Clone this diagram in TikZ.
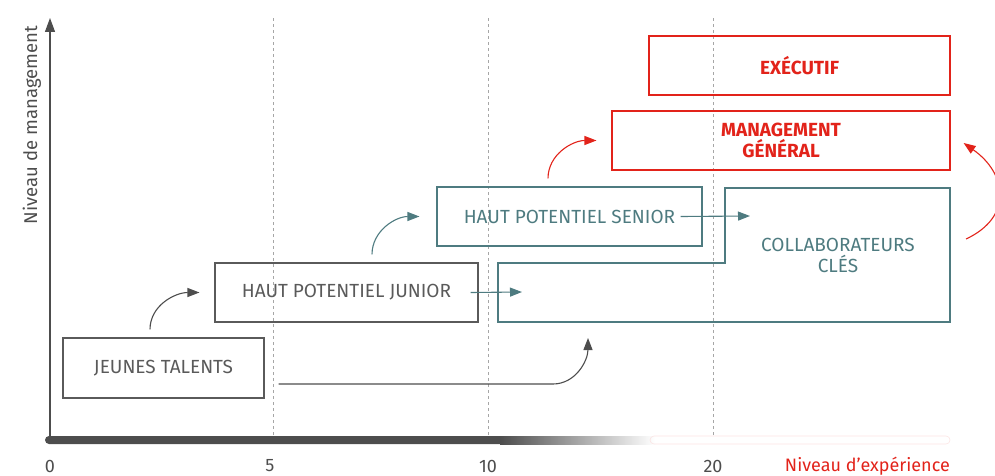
\documentclass[tikz,border=0pt]{standalone}
\usepackage{fontspec}
\setmainfont{Fira Sans}
\usetikzlibrary{arrows.meta,positioning}

\definecolor{axisgrey}{HTML}{4D4D4D}
\definecolor{stagegrey}{HTML}{5A5A5A}
\definecolor{dashgrey}{HTML}{A6A6A6}
\definecolor{petrol}{HTML}{4E7B80}
\definecolor{signalred}{HTML}{E2231A}

\tikzset{
	stagebox/.style={draw=stagegrey, line width=1.1pt, text=stagegrey, inner sep=0pt,
		font=\fontsize{19}{21}\selectfont, align=center},
	petrolbox/.style={stagebox, draw=petrol, text=petrol},
	redbox/.style={stagebox, draw=signalred, text=signalred, font=\fontsize{19}{21}\selectfont\bfseries},
	flow/.style={line width=1.1pt, -{Triangle[length=12pt,width=9pt]}},
	ticklabel/.style={font=\fontsize{18}{20}\selectfont, text=axisgrey, inner sep=0pt}
}

\begin{document}
\begin{tikzpicture}[x=1pt,y=1pt]
	\useasboundingbox (0,0) rectangle (995,475);

	% grid
	\foreach \xg in {273,488,713}
		\draw[dashgrey, dashed, line width=0.8pt] (\xg,40) -- (\xg,457);

	% axes
	\draw[axisgrey, line width=1.2pt, -{Triangle[length=14pt,width=10pt]}] (50,35) -- (50,457);
	\node[ticklabel, rotate=90, font=\fontsize{18.5}{20}\selectfont] (ylabel) at (32,350) {Niveau de management};
	\fill[axisgrey, rounded corners=4pt] (45,31) rectangle (505,39);
	\shade[left color=axisgrey, right color=white] (500,31) rectangle (655,39);
	\draw[signalred!12, line width=0.6pt, rounded corners=4pt] (650,31) rectangle (950,39);
	\node[ticklabel] (t0) at (50,9) {0};
	\node[ticklabel] (t5) at (270,9) {5};
	\node[ticklabel] (t10) at (488,9) {10};
	\node[ticklabel] (t20) at (713,9) {20};
	\node[ticklabel, text=signalred, anchor=east] (xlabel) at (950,9) {Niveau d’expérience};

	% stages
	\node[stagebox, minimum width=201pt, minimum height=60pt] (jeunes) at (163.5,107) {JEUNES TALENTS};
	\node[stagebox, minimum width=263pt, minimum height=59pt] (junior) at (346.5,182.5) {HAUT POTENTIEL JUNIOR};
	\node[petrolbox, minimum width=265pt, minimum height=59pt] (senior) at (569.5,258.5) {HAUT POTENTIEL SENIOR};
	\node[redbox, minimum width=338pt, minimum height=59pt] (general) at (781,334.5) {MANAGEMENT\\GÉNÉRAL};
	\node[redbox, minimum width=301pt, minimum height=59pt] (executif) at (799.5,409.5) {EXÉCUTIF};

	\draw[petrol, line width=1.1pt] (498,153) -- (950,153) -- (950,287) -- (725,287)
		-- (725,212) -- (498,212) -- cycle;
	\node[petrolbox, draw=none] (cles) at (838,220) {COLLABORATEURS\\CLÉS};
	\coordinate (cleslow) at (522,183);
	\coordinate (cleshigh) at (750,259);
	\coordinate (clesbottom) at (588,137);
	\coordinate (clesout) at (966,236);

	% moves
	\draw[flow, axisgrey] ([xshift=-13.5pt,yshift=8pt]jeunes.north) to[out=90,in=180] ([xshift=-15pt]junior.west);
	\draw[flow, petrol] ([xshift=25.5pt,yshift=8pt]junior.north) to[out=90,in=180] ([xshift=-17pt]senior.west);
	\draw[flow, signalred] ([xshift=-21.5pt,yshift=8pt]senior.north) to[out=90,in=180] ([xshift=-15pt]general.west);
	\draw[flow, petrol] ([xshift=-8pt]junior.east) -- (cleslow);
	\draw[flow, petrol] ([xshift=-22pt]senior.east) -- (cleshigh);
	\draw[flow, axisgrey] ([xshift=14pt,yshift=-16pt]jeunes.east) -- (553,91) to[out=0,in=-90] (clesbottom);
	\draw[flow, signalred] (clesout) to[out=25,in=-35,looseness=1.4] ([xshift=13pt,yshift=-2.5pt]general.east);
\end{tikzpicture}
\end{document}
